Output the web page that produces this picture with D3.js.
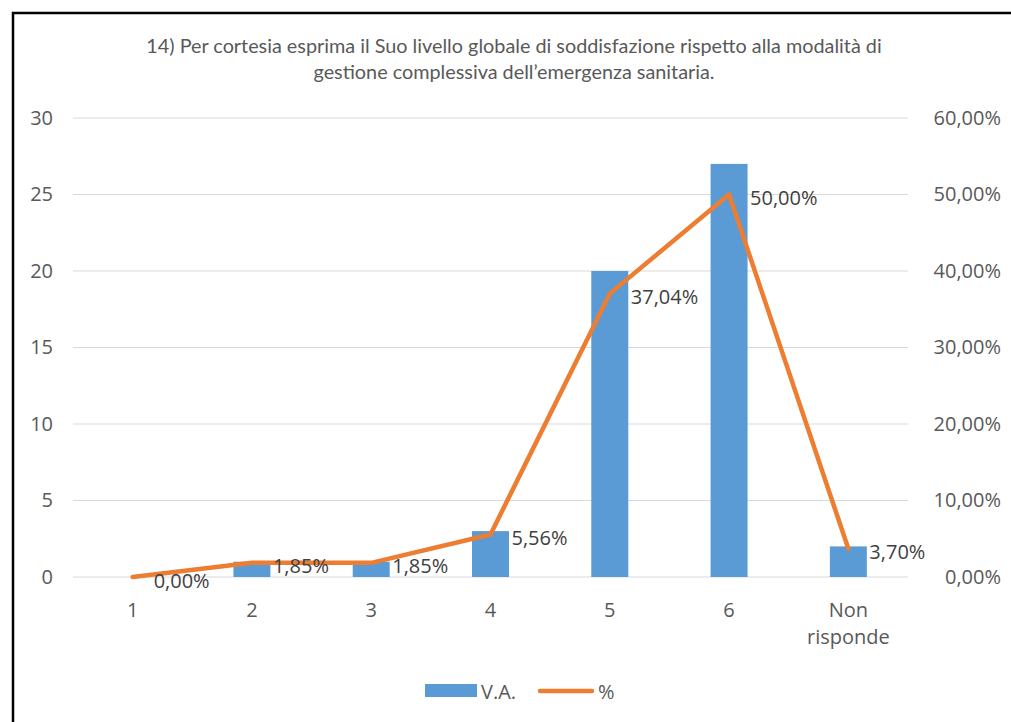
<!DOCTYPE html>
<html>
<head>
<meta charset="utf-8">
<script src="https://cdn.jsdelivr.net/npm/d3@7"></script>
<style>
  body { margin: 0; background: #fff; }
  svg { display: block; }
</style>
</head>
<body>
<svg id="chart" width="1011" height="722"></svg>
<script>
// data
const categories = ["1", "2", "3", "4", "5", "6", "Non risponde"];
const countValues = [0, 1, 1, 3, 20, 27, 2];
const percentValues = [0, 1.85, 1.85, 5.56, 37.04, 50.00, 3.70];
const leftTicks = [0, 5, 10, 15, 20, 25, 30];
const rightTicks = [0, 10, 20, 30, 40, 50, 60];
const titleLines = [
    "14) Per cortesia esprima il Suo livello globale di soddisfazione rispetto alla modalità di",
    "gestione complessiva dell\u2019emergenza sanitaria."
];

const svg = d3.select("#chart");
const textColor = "#595959";
const font = "'Open Sans', 'Noto Sans', sans-serif";

// outer frame (right and bottom run off the picture)
svg.append("rect")
    .attr("x", 13).attr("y", 13)
    .attr("width", 1030).attr("height", 740)
    .attr("fill", "white")
    .attr("stroke", "black")
    .attr("stroke-width", 2.5);

// title, sized so the first line spans about as wide as the original
const title = svg.append("g");
const titleTexts = titleLines.map((line, i) =>
    title.append("text")
        .attr("x", 514)
        .attr("y", 53 + i * 26)
        .attr("text-anchor", "middle")
        .attr("font-family", "Lato, 'Liberation Sans', sans-serif")
        .attr("font-size", 17)
        .attr("fill", textColor)
        .text(line));
const w0 = titleTexts[0].node().getComputedTextLength();
const titleSize = 17 * 736 / w0;
titleTexts.forEach(t => t.attr("font-size", titleSize));

const plot = { left: 73, right: 908, top: 118, bottom: 577 };

const x = d3.scaleBand()
    .domain(categories)
    .range([plot.left, plot.right]);

const yLeft = d3.scaleLinear().domain([0, 30]).range([plot.bottom, plot.top]);
const yRight = d3.scaleLinear().domain([0, 60]).range([plot.bottom, plot.top]);

// gridlines
svg.append("g")
    .selectAll("line")
    .data(leftTicks)
    .join("line")
    .attr("x1", plot.left).attr("x2", plot.right)
    .attr("y1", d => yLeft(d)).attr("y2", d => yLeft(d))
    .attr("stroke", "#d9d9d9")
    .attr("stroke-width", 1.2);

// left axis
const leftAxis = svg.append("g")
    .attr("transform", `translate(${plot.left - 20},0)`)
    .call(d3.axisLeft(yLeft).tickValues(leftTicks).tickSize(0).tickPadding(0));
leftAxis.select(".domain").remove();
leftAxis.selectAll("text")
    .attr("font-family", font).attr("font-size", 20).attr("fill", textColor);

// right axis
const pctFmt = v => d3.format(".2f")(v).replace(".", ",") + "%";
const rightAxis = svg.append("g")
    .attr("transform", `translate(1001,0)`)
    .call(d3.axisRight(yRight).tickValues(rightTicks).tickSize(0).tickPadding(0).tickFormat(pctFmt));
rightAxis.select(".domain").remove();
rightAxis.selectAll("text")
    .attr("text-anchor", "end")
    .attr("font-family", font).attr("font-size", 20).attr("fill", textColor);

// category labels
const bottomAxis = svg.append("g")
    .attr("transform", `translate(0,${plot.bottom})`)
    .call(d3.axisBottom(x).tickSize(0).tickPadding(0));
bottomAxis.select(".domain").remove();
bottomAxis.selectAll("text").remove();
bottomAxis.selectAll(".tick").each(function (d) {
    const words = d === "Non risponde" ? ["Non", "risponde"] : [d];
    const t = d3.select(this).append("text")
        .attr("text-anchor", "middle")
        .attr("font-family", font).attr("font-size", 20).attr("fill", textColor);
    words.forEach((w, i) => {
        t.append("tspan").attr("x", 0).attr("y", 40 + i * 27).text(w);
    });
});

// bars
const barW = x.bandwidth() * 0.31;
svg.append("g")
    .selectAll("rect")
    .data(countValues)
    .join("rect")
    .attr("x", (d, i) => x(categories[i]) + x.bandwidth() / 2 - barW / 2)
    .attr("y", d => yLeft(d))
    .attr("width", barW)
    .attr("height", d => plot.bottom - yLeft(d))
    .attr("fill", "#5b9bd5");

// percent line
const line = d3.line()
    .x((d, i) => x(categories[i]) + x.bandwidth() / 2)
    .y(d => yRight(d));
svg.append("path")
    .datum(percentValues)
    .attr("d", line)
    .attr("fill", "none")
    .attr("stroke", "#ed7d31")
    .attr("stroke-width", 4.5)
    .attr("stroke-linejoin", "round")
    .attr("stroke-linecap", "round");

// data labels
svg.append("g")
    .selectAll("text")
    .data(percentValues)
    .join("text")
    .attr("x", (d, i) => x(categories[i]) + x.bandwidth() / 2 + 21)
    .attr("y", d => yRight(d) + 3)
    .attr("dominant-baseline", "central")
    .attr("font-family", font).attr("font-size", 20)
    .attr("fill", "#404040")
    .text(pctFmt);

// legend
const legend = svg.append("g");
legend.append("rect")
    .attr("x", 425).attr("y", 684)
    .attr("width", 52).attr("height", 13)
    .attr("fill", "#5b9bd5");
legend.append("text")
    .attr("x", 481).attr("y", 691)
    .attr("dominant-baseline", "central")
    .attr("font-family", font).attr("font-size", 20).attr("fill", textColor)
    .text("V.A.");
legend.append("line")
    .attr("x1", 540).attr("x2", 592)
    .attr("y1", 691).attr("y2", 691)
    .attr("stroke", "#ed7d31").attr("stroke-width", 4.5)
    .attr("stroke-linecap", "round");
legend.append("text")
    .attr("x", 598).attr("y", 691)
    .attr("dominant-baseline", "central")
    .attr("font-family", font).attr("font-size", 20).attr("fill", textColor)
    .text("%");
</script>
</body>
</html>
